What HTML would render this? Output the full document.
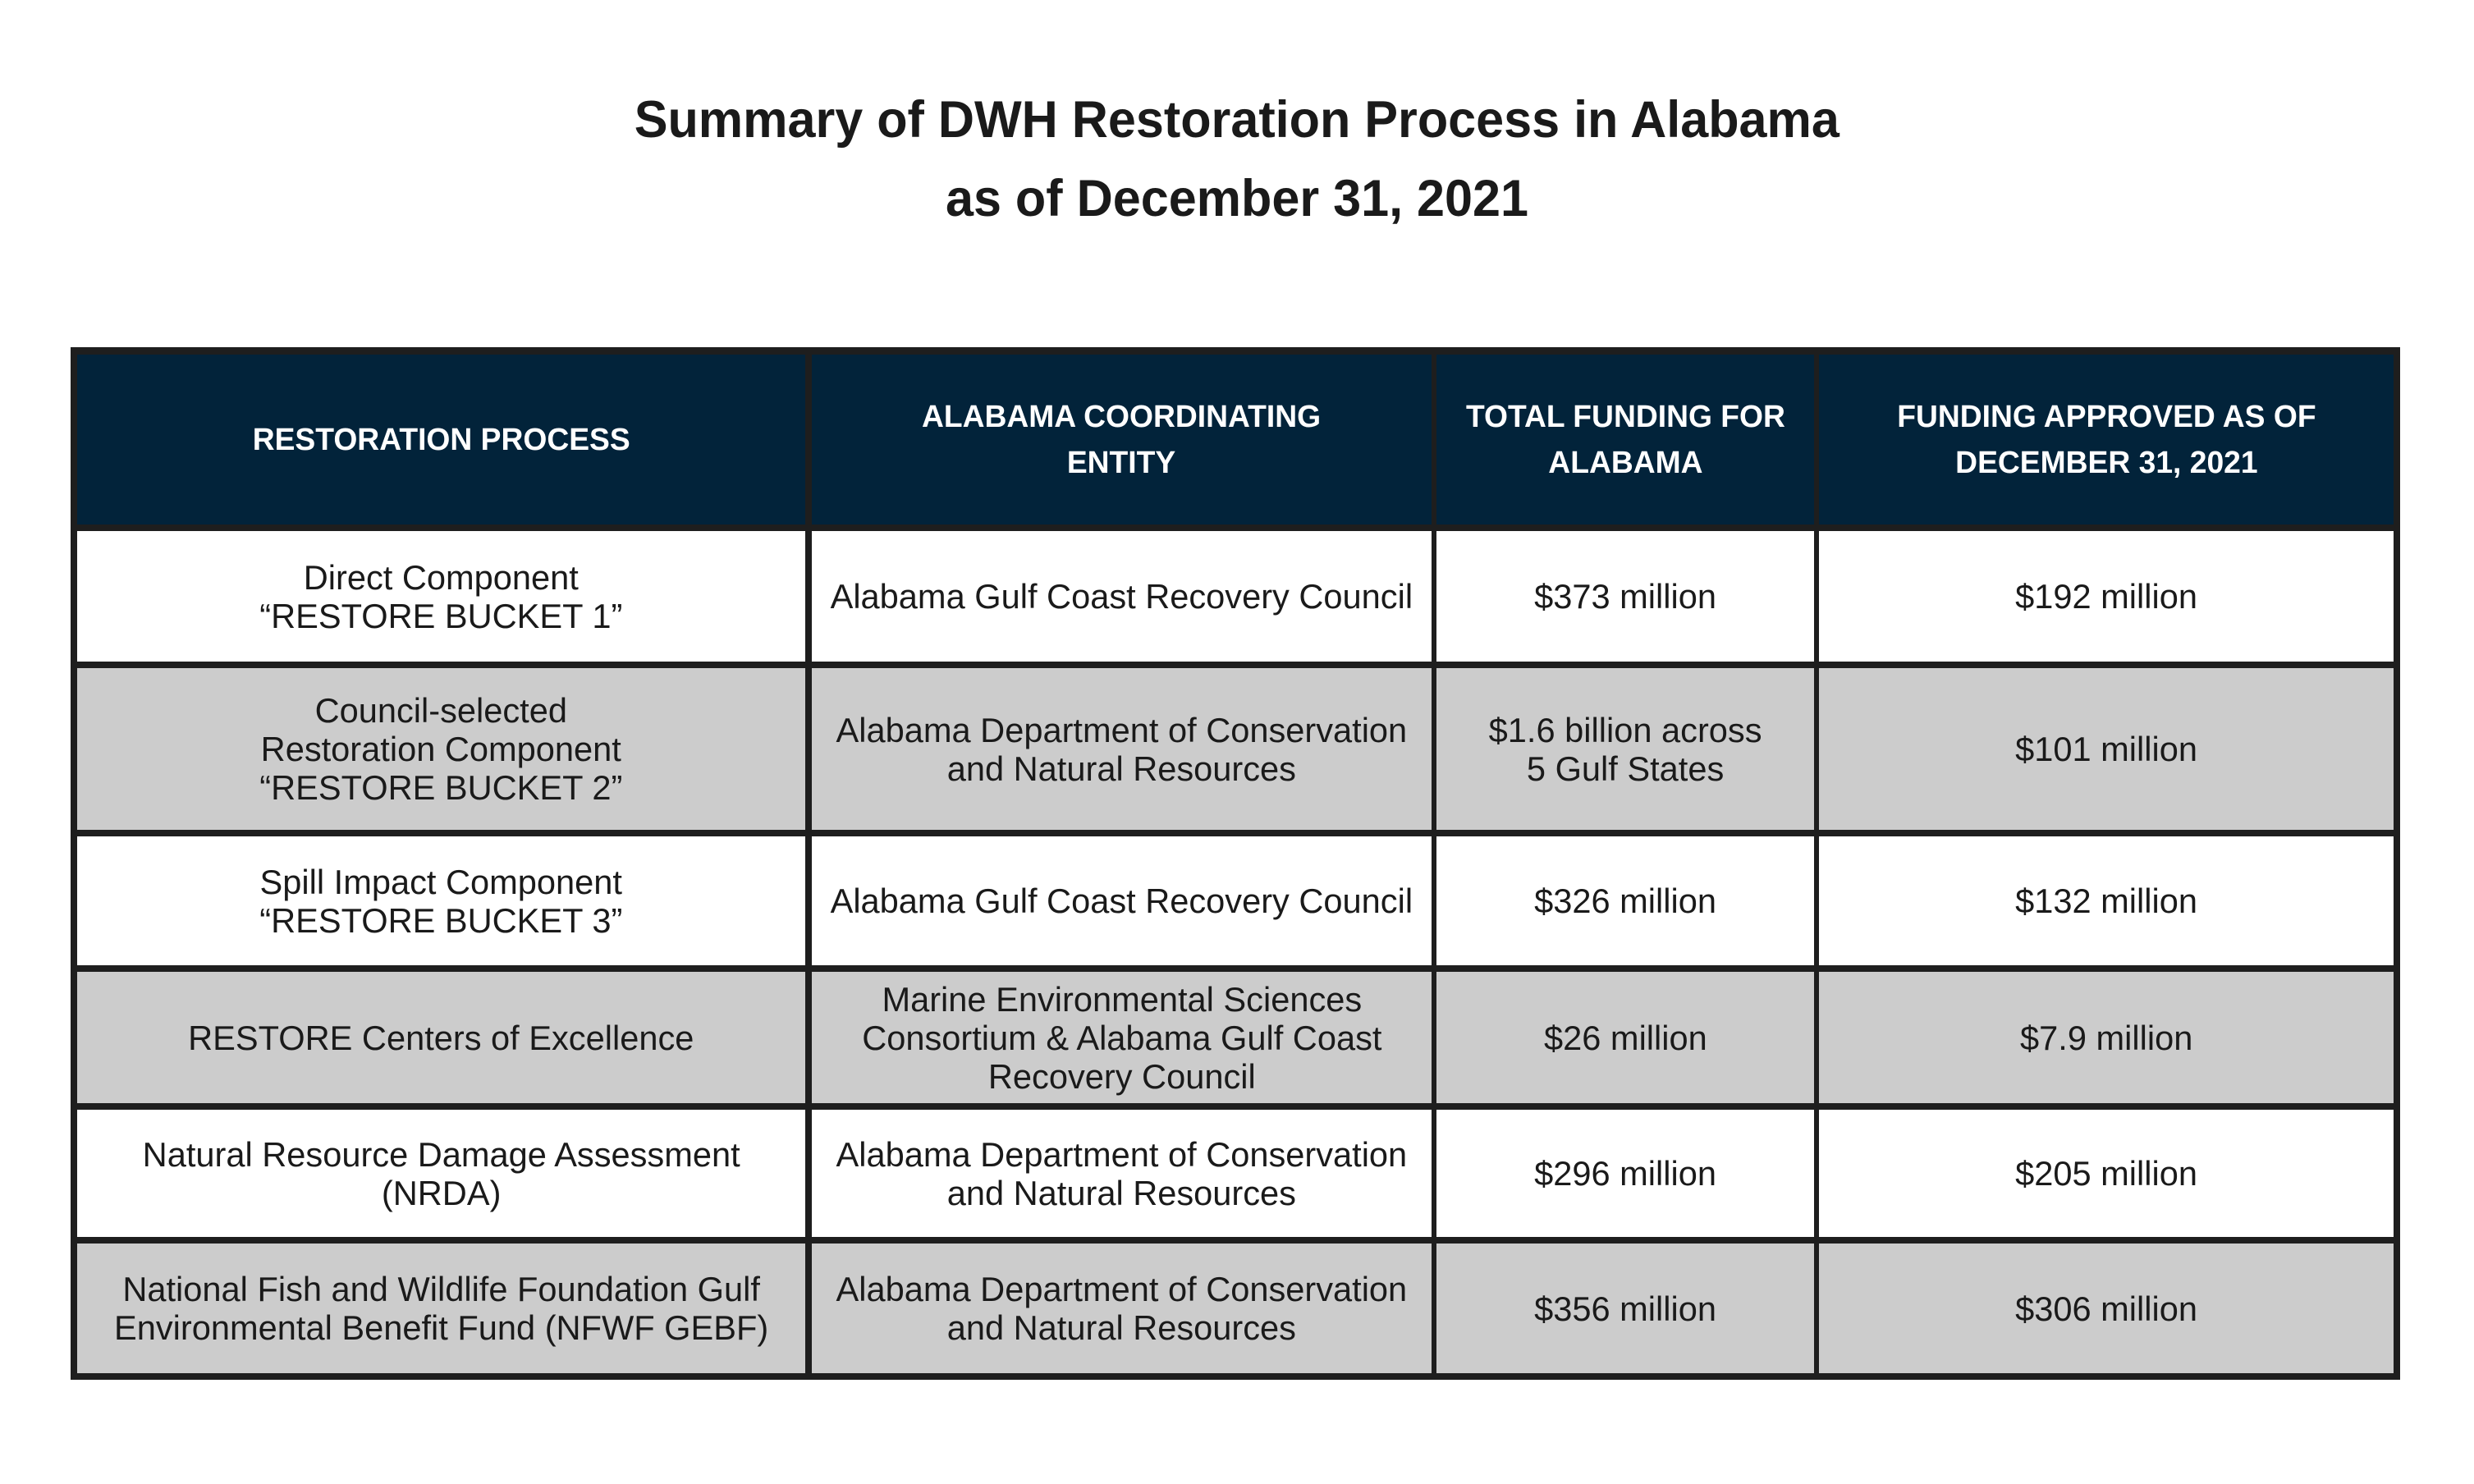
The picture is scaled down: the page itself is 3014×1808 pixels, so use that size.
<!DOCTYPE html>
<html><head><meta charset="utf-8"><style>
html,body{margin:0;padding:0;background:#fff;}
body{width:3014px;height:1808px;position:relative;overflow:hidden;font-family:"Liberation Sans",sans-serif;color:#1a1a1a;}
.t{position:absolute;left:0;width:3014px;text-align:center;font-weight:bold;font-size:63px;color:#1a1a1a;}
.t span{display:inline-block;transform:scaleX(0.97);white-space:nowrap;}
#tbl{position:absolute;left:86px;top:423px;width:2838px;height:1258px;background:#1e1e1e;}
.c{position:absolute;display:flex;align-items:center;justify-content:center;text-align:center;font-size:42px;line-height:47px;}
.c span{display:inline-block;transform:scaleX(0.99);white-space:nowrap;}
.h{background:#02233a;color:#fff;font-weight:bold;font-size:38px;line-height:56px;}
.h span{transform:scaleX(0.98);}
.w{background:#fff;}
.g{background:#cccccc;}
</style></head><body>
<div class="t" style="top:110px;"><span>Summary of DWH Restoration Process in Alabama</span></div>
<div class="t" style="top:206px;"><span>as of December 31, 2021</span></div>
<div id="tbl"></div>

<div class="c h" style="left:94px;width:887px;top:432px;height:207px;"><span>RESTORATION PROCESS</span></div>
<div class="c h" style="left:989px;width:755px;top:432px;height:207px;"><span>ALABAMA COORDINATING<br>ENTITY</span></div>
<div class="c h" style="left:1750px;width:460px;top:432px;height:207px;"><span>TOTAL FUNDING FOR<br>ALABAMA</span></div>
<div class="c h" style="left:2216px;width:700px;top:432px;height:207px;"><span>FUNDING APPROVED AS OF<br>DECEMBER 31, 2021</span></div>

<div class="c w" style="left:94px;width:887px;top:647px;height:159px;"><span>Direct Component<br>“RESTORE BUCKET 1”</span></div>
<div class="c w" style="left:989px;width:755px;top:647px;height:159px;"><span>Alabama Gulf Coast Recovery Council</span></div>
<div class="c w" style="left:1750px;width:460px;top:647px;height:159px;"><span>$373 million</span></div>
<div class="c w" style="left:2216px;width:700px;top:647px;height:159px;"><span>$192 million</span></div>

<div class="c g" style="left:94px;width:887px;top:814px;height:197px;"><span>Council-selected<br>Restoration Component<br>“RESTORE BUCKET 2”</span></div>
<div class="c g" style="left:989px;width:755px;top:814px;height:197px;"><span>Alabama Department of Conservation<br>and Natural Resources</span></div>
<div class="c g" style="left:1750px;width:460px;top:814px;height:197px;"><span>$1.6 billion across<br>5 Gulf States</span></div>
<div class="c g" style="left:2216px;width:700px;top:814px;height:197px;"><span>$101 million</span></div>

<div class="c w" style="left:94px;width:887px;top:1019px;height:157px;"><span>Spill Impact Component<br>“RESTORE BUCKET 3”</span></div>
<div class="c w" style="left:989px;width:755px;top:1019px;height:157px;"><span>Alabama Gulf Coast Recovery Council</span></div>
<div class="c w" style="left:1750px;width:460px;top:1019px;height:157px;"><span>$326 million</span></div>
<div class="c w" style="left:2216px;width:700px;top:1019px;height:157px;"><span>$132 million</span></div>

<div class="c g" style="left:94px;width:887px;top:1184px;height:160px;"><span>RESTORE Centers of Excellence</span></div>
<div class="c g" style="left:989px;width:755px;top:1184px;height:160px;"><span>Marine Environmental Sciences<br>Consortium &amp; Alabama Gulf Coast<br>Recovery Council</span></div>
<div class="c g" style="left:1750px;width:460px;top:1184px;height:160px;"><span>$26 million</span></div>
<div class="c g" style="left:2216px;width:700px;top:1184px;height:160px;"><span>$7.9 million</span></div>

<div class="c w" style="left:94px;width:887px;top:1352px;height:155px;"><span>Natural Resource Damage Assessment<br>(NRDA)</span></div>
<div class="c w" style="left:989px;width:755px;top:1352px;height:155px;"><span>Alabama Department of Conservation<br>and Natural Resources</span></div>
<div class="c w" style="left:1750px;width:460px;top:1352px;height:155px;"><span>$296 million</span></div>
<div class="c w" style="left:2216px;width:700px;top:1352px;height:155px;"><span>$205 million</span></div>

<div class="c g" style="left:94px;width:887px;top:1515px;height:158px;"><span>National Fish and Wildlife Foundation Gulf<br>Environmental Benefit Fund (NFWF GEBF)</span></div>
<div class="c g" style="left:989px;width:755px;top:1515px;height:158px;"><span>Alabama Department of Conservation<br>and Natural Resources</span></div>
<div class="c g" style="left:1750px;width:460px;top:1515px;height:158px;"><span>$356 million</span></div>
<div class="c g" style="left:2216px;width:700px;top:1515px;height:158px;"><span>$306 million</span></div>
</body></html>
